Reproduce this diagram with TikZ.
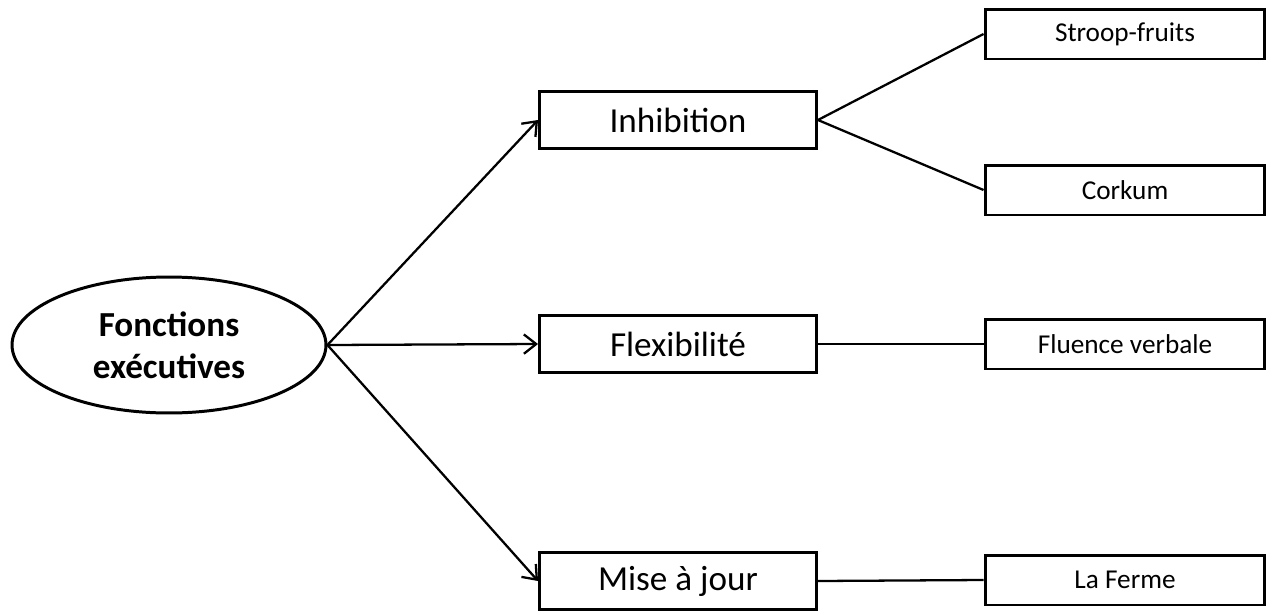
\documentclass[tikz,border=0pt]{standalone}
\usepackage{fontspec}
\setmainfont{Carlito}
\usetikzlibrary{shapes.geometric,arrows.meta,positioning}
\tikzset{
    fonction/.style={
        ellipse, draw=black, line width=1.7pt, inner sep=0pt,
        minimum width=6.28cm, minimum height=2.72cm,
        align=center, font=\fontsize{20}{24}\selectfont\bfseries
    },
    domaine/.style={
        rectangle, draw=black, line width=1.7pt,
        minimum width=5.54cm, minimum height=1.14cm,
        align=center, font=\fontsize{20}{24}\selectfont
    },
    epreuve/.style={
        rectangle, draw=black, line width=1.7pt,
        minimum width=5.6cm, minimum height=1.0cm,
        align=center, font=\fontsize{15.5}{18}\selectfont
    },
    arrow/.style={-{Straight Barb[length=7pt,width=11pt]},line width=1.3pt},
    relation/.style={draw,line width=1.3pt}
}
\begin{document}
\begin{tikzpicture}[x=0.02cm, y=-0.02cm]
\useasboundingbox (0,0) rectangle (1269,613);

%% centre
\node[fonction] (fe) at (169, 345) {Fonctions\\exécutives};

%% column 2 – x=678
\node[domaine] (inhib) at (678, 120) {Inhibition};
\node[domaine] (flex)  at (678, 344) {Flexibilité};
\node[domaine] (maj)   at (678, 581) {Mise à jour};

%% column 3 – x=1125
\node[epreuve] (stroop)  at (1125, 34)  {Stroop-fruits};
\node[epreuve] (corkum)  at (1125, 190) {Corkum};
\node[epreuve] (fluence) at (1125, 344) {Fluence verbale};
\node[epreuve] (ferme)   at (1125, 580) {La Ferme};

%% fe -> domaines
\draw[arrow] (fe.east) -- (inhib.west);
\draw[arrow] (fe.east) -- (flex.west);
\draw[arrow] (fe.east) -- (maj.west);

%% domaines -- epreuves
\draw[relation] (inhib.east) -- (stroop.west);
\draw[relation] (inhib.east) -- (corkum.west);
\draw[relation] (flex.east) -- (fluence.west);
\draw[relation] (maj.east) -- (ferme.west);

\end{tikzpicture}
\end{document}
